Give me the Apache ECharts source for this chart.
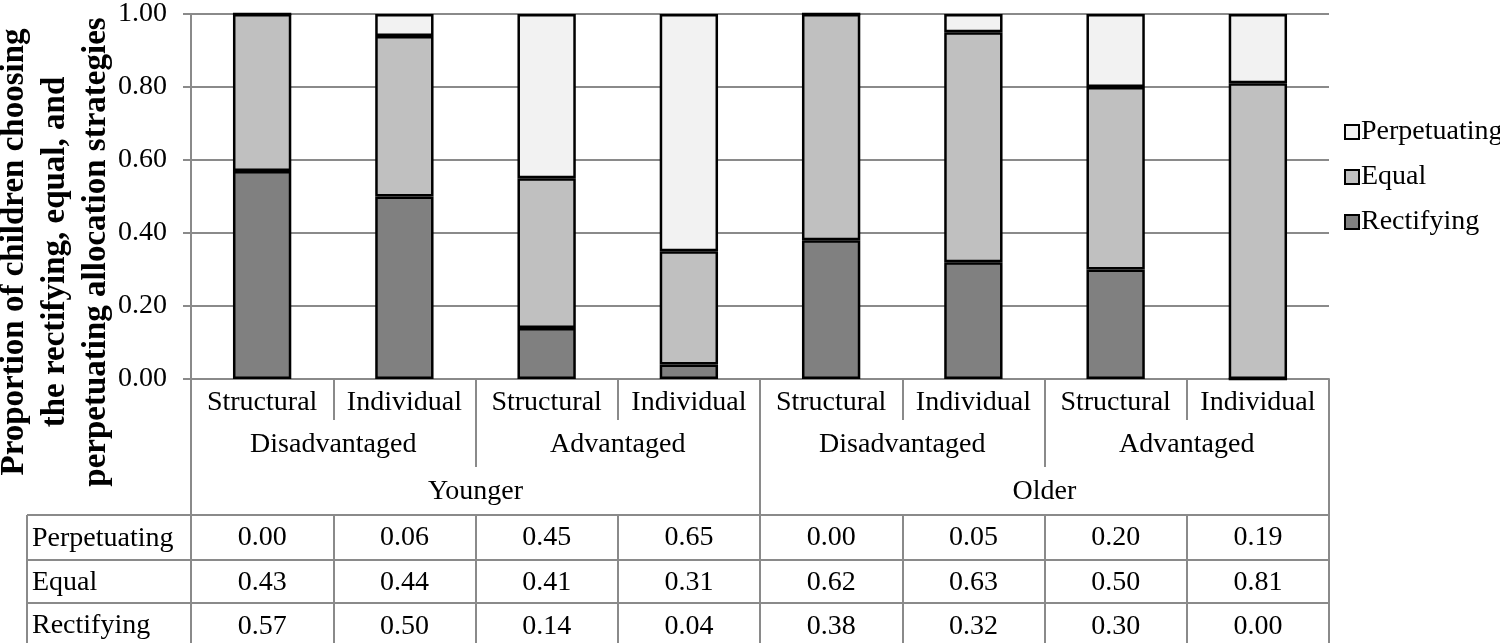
<!DOCTYPE html>
<html>
<head>
<meta charset="utf-8">
<script src="https://cdn.jsdelivr.net/npm/echarts@6/dist/echarts.min.js"></script>
<style>html,body{margin:0;padding:0;background:#fff}#c{width:1500px;height:643px}</style>
</head>
<body>
<div id="c"></div>
<script>
const conditions = ['Structural','Individual','Structural','Individual','Structural','Individual','Structural','Individual'];
const statusGroups = ['Disadvantaged','Advantaged','Disadvantaged','Advantaged'];
const ageGroups = ['Younger','Older'];
const perpetuating = [0.00,0.06,0.45,0.65,0.00,0.05,0.20,0.19];
const equal        = [0.43,0.44,0.41,0.31,0.62,0.63,0.50,0.81];
const rectifying   = [0.57,0.50,0.14,0.04,0.38,0.32,0.30,0.00];
const yTicks = [0,0.2,0.4,0.6,0.8,1.0];
const yTitle = ['Proportion of children choosing','the rectifying, equal, and','perpetuating allocation strategies'];

const FONT = '"Liberation Serif", "Times New Roman", serif';
const GREY = '#8a8a8a';
const G = {left:191, right:171, top:14, bottom:264};
const chart = echarts.init(document.getElementById('c'), null, {renderer:'canvas'});

function hierAxis(data, margin, tickLen, showLine) {
  return {
    type:'category', position:'bottom', gridIndex:0, data:data, offset:0,
    axisLine:{show:showLine, lineStyle:{color:GREY, width:2}},
    axisTick:{show:true, interval:0, length:tickLen, lineStyle:{color:GREY, width:2}},
    axisLabel:{interval:0, margin:margin, color:'#000', fontFamily:FONT, fontSize:28},
    splitLine:{show:false}
  };
}
function rowAxis(values, offset, tickLen, margin) {
  return {
    type:'category', position:'bottom', gridIndex:0, offset:offset,
    data: values.map(v => v.toFixed(2)),
    axisLine:{show:true, lineStyle:{color:GREY, width:2}},
    axisTick:{show:true, interval:0, length:tickLen, lineStyle:{color:GREY, width:2}},
    axisLabel:{interval:0, margin:margin, color:'#000', fontFamily:FONT, fontSize:28},
    splitLine:{show:false}
  };
}

const rowOffsets = [136, 181, 224];
const rowTicks = [45, 43, 45];
const rowNames = ['Perpetuating','Equal','Rectifying'];
const gridBottomY = 643 - G.bottom;

const graphics = [];
graphics.push({
  type:'text', x:55, y:252, rotation:Math.PI/2,
  style:{text:yTitle.join('\n'), font:'bold 33px ' + FONT, fill:'#000',
    textAlign:'center', textVerticalAlign:'middle', lineHeight:41}
});
rowOffsets.forEach((o, i) => {
  const y = gridBottomY + o;
  graphics.push({type:'line', shape:{x1:27, y1:y, x2:G.left, y2:y}, style:{stroke:GREY, lineWidth:2}});
  const nextY = i < rowOffsets.length - 1 ? gridBottomY + rowOffsets[i+1] : 643 + 4;
  graphics.push({type:'text', x:32, y:(y + nextY)/2 + 1,
    style:{text:rowNames[i], font:'28px ' + FONT, fill:'#000', textVerticalAlign:'middle'}});
});
graphics.push({type:'line', shape:{x1:27, y1:gridBottomY + rowOffsets[0], x2:27, y2:643}, style:{stroke:GREY, lineWidth:2}});

const barStyle = (c) => ({color:c, borderColor:'#000', borderWidth:2.5});

chart.setOption({
  animation:false,
  backgroundColor:'#fff',
  grid:G,
  legend:{
    orient:'vertical', left:1339, top:113, itemWidth:14, itemHeight:14, itemGap:17,
    icon:'rect',
    data:['Perpetuating','Equal','Rectifying'],
    textStyle:{fontFamily:FONT, fontSize:28, color:'#000', padding:[0,0,0,-3]},
    itemStyle:{borderColor:'#000', borderWidth:2}
  },
  xAxis:[
    hierAxis(conditions, 10, 41, true),
    hierAxis(statusGroups, 52, 88, false),
    hierAxis(ageGroups, 99, 136, false),
    rowAxis(perpetuating, rowOffsets[0], rowTicks[0], 9),
    rowAxis(equal, rowOffsets[1], rowTicks[1], 9),
    rowAxis(rectifying, rowOffsets[2], rowTicks[2], 10)
  ],
  yAxis:{
    type:'value', min:0, max:1, interval:0.2,
    axisLine:{show:true, lineStyle:{color:GREY, width:2}},
    axisTick:{show:true, length:8, lineStyle:{color:GREY, width:2}},
    axisLabel:{margin:24, color:'#000', fontFamily:FONT, fontSize:28, formatter:v => v.toFixed(2)},
    splitLine:{show:true, lineStyle:{color:GREY, width:2}}
  },
  series:[
    {name:'Rectifying', type:'bar', stack:'s', xAxisIndex:0, barWidth:'41%', data:rectifying, itemStyle:barStyle('#808080')},
    {name:'Equal', type:'bar', stack:'s', xAxisIndex:0, barWidth:'41%', data:equal, itemStyle:barStyle('#c0c0c0')},
    {name:'Perpetuating', type:'bar', stack:'s', xAxisIndex:0, barWidth:'41%', data:perpetuating, itemStyle:barStyle('#f2f2f2')}
  ],
  graphic:graphics
});
</script>
</body>
</html>
